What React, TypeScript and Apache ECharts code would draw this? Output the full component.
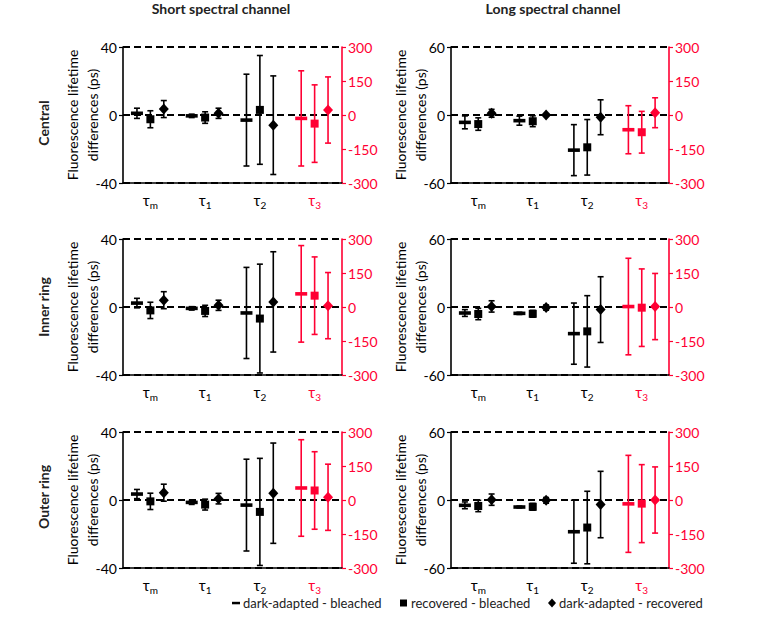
import React, { useEffect, useRef } from "react";
import * as echarts from "echarts";

// ---------- data ----------
const tauSubs = ["m", "1", "2", "3"];
const seriesNames = ["dark-adapted - bleached", "recovered - bleached", "dark-adapted - recovered"];
const rowNames = ["Central", "Inner ring", "Outer ring"];
const colNames = ["Short spectral channel", "Long spectral channel"];
const leftLimits = [40, 60]; // short, long channel (ps)
const rightLimit = 300;
const rightInterval = 150;
const yAxisName = "Fluorescence lifetime\ndifferences (ps)";

// means per series: [τm, τ1, τ2 (left axis), τ3 (right axis)]
const shortCentralMean = [[1, -0.5, -3, -15], [-2.5, -1.5, 3, -38], [3.5, 1, -6, 22]];
const shortCentralErr = [[3, 1, 27, 210], [5, 3.4, 32, 171], [5, 3, 29, 146]];
const longCentralMean = [[-6.5, -5, -31, -65], [-8, -5.5, -28.5, -76], [1.5, 0, -2, 10]];
const longCentralErr = [[5.7, 4, 22.5, 106], [5.5, 4.8, 24.5, 92], [3.5, 1, 15.4, 66]];
const shortInnerMean = [[2.3, -0.8, -3.5, 58], [-2, -2.3, -6.8, 50], [4, 1, 3, 6]];
const shortInnerErr = [[2.8, 1, 26.8, 213], [4.8, 3.3, 32, 171], [5, 3, 29.5, 146]];
const longInnerMean = [[-5.3, -5.6, -23.5, 2], [-6.2, -6, -21.5, -3], [0.5, -0.5, -2.3, 2]];
const longInnerErr = [[3, 1, 27, 213], [5, 3, 31.5, 171], [5, 2.3, 29, 146]];
const shortOuterMean = [[3.5, -1.4, -3, 53], [-0.8, -2.7, -7, 42], [4.3, 0.8, 4, 12]];
const shortOuterErr = [[2.7, 1.2, 27, 213], [4.8, 3.2, 31.5, 171], [5, 3.1, 29.5, 146]];
const longOuterMean = [[-4.7, -6.2, -28, -17], [-5.3, -6, -24.3, -16], [0.3, -0.3, -4, 0]];
const longOuterErr = [[3, 0.8, 27.8, 214], [5, 3, 32, 172], [5, 2.5, 29.3, 146]];

const panels = [
  { mean: shortCentralMean, err: shortCentralErr },
  { mean: longCentralMean, err: longCentralErr },
  { mean: shortInnerMean, err: shortInnerErr },
  { mean: longInnerMean, err: longInnerErr },
  { mean: shortOuterMean, err: shortOuterErr },
  { mean: longOuterMean, err: longOuterErr },
];

// ---------- style ----------
const FONT = "Lato, 'Open Sans', sans-serif";
const BLACK = "#000000";
const RED = "#ff0033";
const gridLefts = [123, 451];
const gridWidths = [219, 218];
const gridTops = [47, 239, 432];
const gridHeight = 136;

function makeRenderItem(k: number, color: string) {
  return (params: any, api: any) => {
    const cat = api.value(0);
    const v = api.value(1);
    const e = api.value(2);
    const c = api.coord([cat, v]);
    const band = api.size([1, 0])[0];
    const x = c[0] + (k - 1) * band * 0.245;
    const y = c[1];
    const yt = api.coord([cat, v + e])[1];
    const yb = api.coord([cat, v - e])[1];
    const lw = 1.6;
    const cap = 3;
    const children: any[] = [
      { type: "line", shape: { x1: x, y1: yt, x2: x, y2: yb }, style: { stroke: color, lineWidth: lw } },
      { type: "line", shape: { x1: x - cap, y1: yt, x2: x + cap, y2: yt }, style: { stroke: color, lineWidth: lw } },
      { type: "line", shape: { x1: x - cap, y1: yb, x2: x + cap, y2: yb }, style: { stroke: color, lineWidth: lw } },
    ];
    if (k === 0) {
      children.push({ type: "rect", shape: { x: x - 6, y: y - 1.8, width: 12, height: 3.6 }, style: { fill: color } });
    } else if (k === 1) {
      children.push({ type: "rect", shape: { x: x - 4, y: y - 4, width: 8, height: 8 }, style: { fill: color } });
    } else {
      children.push({
        type: "polygon",
        shape: { points: [[x, y - 5.5], [x + 5, y], [x, y + 5.5], [x - 5, y]] },
        style: { fill: color },
      });
    }
    return { type: "group", children };
  };
}

function buildOption() {
  const grid: any[] = [];
  const xAxis: any[] = [];
  const yAxis: any[] = [];
  const series: any[] = [];

  panels.forEach((p, i) => {
    const row = Math.floor(i / 2);
    const col = i % 2;
    const lim = leftLimits[col];
    grid.push({ left: gridLefts[col], top: gridTops[row], width: gridWidths[col], height: gridHeight });
    xAxis.push({
      type: "category",
      gridIndex: i,
      data: tauSubs,
      boundaryGap: true,
      axisLine: { show: true, onZero: false, lineStyle: { color: BLACK, width: 1.6 } },
      axisTick: { show: false },
      splitLine: { show: false },
      axisLabel: {
        margin: 8,
        interval: 0,
        formatter: (val: string, idx: number) => (idx === 3 ? `{tr|τ}{sr|${val}}` : `{t|τ}{s|${val}}`),
        rich: {
          t: { fontSize: 15, fontFamily: FONT, color: BLACK, lineHeight: 18 },
          s: { fontSize: 10, fontFamily: FONT, color: BLACK, lineHeight: 10, padding: [9, 0, 0, 0] },
          tr: { fontSize: 15, fontFamily: FONT, color: RED, lineHeight: 18 },
          sr: { fontSize: 10, fontFamily: FONT, color: RED, lineHeight: 10, padding: [9, 0, 0, 0] },
        },
      },
    });
    yAxis.push({
      type: "value",
      gridIndex: i,
      position: "left",
      min: -lim,
      max: lim,
      interval: lim,
      name: yAxisName,
      nameLocation: "middle",
      nameGap: 21,
      nameMoveOverlap: false,
      nameTextStyle: { fontSize: 14, fontFamily: FONT, color: BLACK, lineHeight: 20 },
      axisLine: { show: true, lineStyle: { color: BLACK, width: 1.6 } },
      axisTick: { show: true, length: 4, lineStyle: { color: BLACK, width: 1.2 } },
      axisLabel: { fontSize: 14, fontFamily: FONT, color: BLACK, margin: 6 },
      splitLine: { show: true, lineStyle: { color: BLACK, width: 1.8, type: [7, 4] } },
    });
    yAxis.push({
      type: "value",
      gridIndex: i,
      position: "right",
      min: -rightLimit,
      max: rightLimit,
      interval: rightInterval,
      axisLine: { show: true, lineStyle: { color: RED, width: 1.6 } },
      axisTick: { show: true, length: 4, lineStyle: { color: RED, width: 1.2 } },
      axisLabel: { fontSize: 14, fontFamily: FONT, color: RED, margin: 6 },
      splitLine: { show: false },
    });
    const leftY = i * 2;
    const rightY = i * 2 + 1;
    seriesNames.forEach((name, k) => {
      const leftData = [0, 1, 2].map((c) => [c, p.mean[k][c], p.err[k][c]]);
      const rightData = [[3, p.mean[k][3], p.err[k][3]]];
      series.push({
        type: "custom",
        name,
        xAxisIndex: i,
        yAxisIndex: leftY,
        data: leftData,
        encode: { x: 0, y: 1 },
        itemStyle: { color: BLACK },
        clip: false,
        z: 5,
        renderItem: makeRenderItem(k, BLACK),
      });
      series.push({
        type: "custom",
        name,
        xAxisIndex: i,
        yAxisIndex: rightY,
        data: rightData,
        encode: { x: 0, y: 1 },
        itemStyle: { color: RED },
        clip: false,
        z: 5,
        renderItem: makeRenderItem(k, RED),
      });
    });
  });

  const graphic: any[] = [];
  // column titles
  const colCenters = [221, 553];
  colNames.forEach((t, c) => {
    graphic.push({
      type: "text",
      x: colCenters[c],
      y: 8,
      style: { text: t, fontSize: 14, fontWeight: "bold", fontFamily: FONT, fill: "#222", align: "center", verticalAlign: "middle" },
    });
  });
  // row labels
  const rowCenters = [123, 307, 497];
  rowNames.forEach((t, r) => {
    graphic.push({
      type: "text",
      x: 43,
      y: rowCenters[r],
      rotation: Math.PI / 2,
      style: { text: t, fontSize: 14, fontWeight: "bold", fontFamily: FONT, fill: "#222", align: "center", verticalAlign: "middle" },
    });
  });
  // legend
  const legY = 603;
  const legX = [232, 400, 548];
  seriesNames.forEach((name, k) => {
    const x0 = legX[k];
    let shape: any;
    if (k === 0) shape = { type: "rect", shape: { x: x0, y: legY - 1.2, width: 8, height: 2.5 }, style: { fill: BLACK } };
    else if (k === 1) shape = { type: "rect", shape: { x: x0, y: legY - 3.5, width: 7, height: 7 }, style: { fill: BLACK } };
    else shape = { type: "polygon", shape: { points: [[x0 + 4, legY - 4.5], [x0 + 8, legY], [x0 + 4, legY + 4.5], [x0, legY]] }, style: { fill: BLACK } };
    graphic.push(shape);
    graphic.push({
      type: "text",
      x: x0 + 11,
      y: legY,
      style: { text: name, fontSize: 13, fontFamily: FONT, fill: "#222", align: "left", verticalAlign: "middle" },
    });
  });

  return {
    animation: false,
    backgroundColor: "#ffffff",
    textStyle: { fontFamily: FONT },
    grid,
    xAxis,
    yAxis,
    series,
    graphic,
  };
}

export default function App() {
  const ref = useRef<HTMLDivElement>(null);
  useEffect(() => {
    if (!ref.current) return;
    const chart = echarts.init(ref.current, undefined, { renderer: "svg" });
    chart.setOption(buildOption() as any);
    return () => chart.dispose();
  }, []);
  return <div ref={ref} style={{ position: "absolute", left: 0, top: 0, width: 764, height: 620 }} />;
}
